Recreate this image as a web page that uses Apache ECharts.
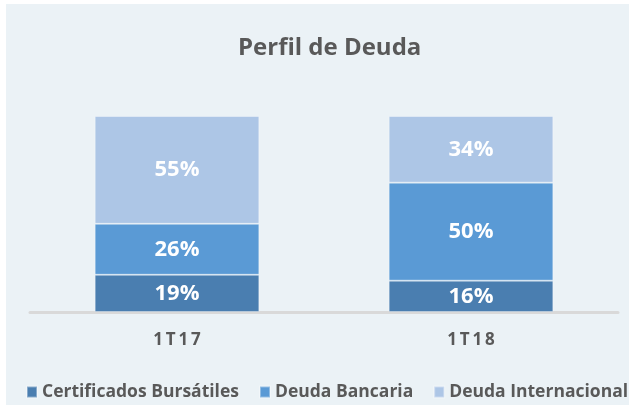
<!DOCTYPE html>
<html>
<head>
<meta charset="utf-8">
<script src="https://cdn.jsdelivr.net/npm/echarts@6/dist/echarts.min.js"></script>
<style>
  html, body { margin: 0; padding: 0; background: #ffffff; }
  #chart { position: absolute; left: 6px; top: 4px; width: 623px; height: 401px; background: #ebf2f6; }
</style>
</head>
<body>
<div id="chart"></div>
<script>
const categories = ["1T17", "1T18"];
const certificados = [19, 16];
const bancaria = [26, 50];
const internacional = [55, 34];

const chart = echarts.init(document.getElementById("chart"));

const labelStyle = {
  show: true,
  position: "inside",
  color: "#ffffff",
  fontFamily: "Open Sans",
  fontWeight: "bold",
  fontSize: 22,
  formatter: (p) => p.value + "%",
};

const makeSeries = (name, data, color) => ({
  name,
  type: "bar",
  stack: "total",
  barWidth: "56%",
  data,
  itemStyle: { color, borderColor: "rgba(255,255,255,0.35)", borderWidth: 1 },
  label: labelStyle,
});

chart.setOption({
  animation: false,
  title: {
    text: "Perfil de Deuda",
    left: 227,
    top: 27,
    textStyle: { fontFamily: "Open Sans", fontWeight: "bold", fontSize: 24, color: "#595959" },
  },
  grid: { left: 24, right: 11, top: 112, height: 196 },
  xAxis: {
    type: "category",
    data: categories,
    axisLine: { lineStyle: { color: "#d9d9d9", width: 3 } },
    axisTick: { show: false },
    axisLabel: {
      margin: 20,
      fontFamily: "Open Sans",
      fontWeight: "bold",
      fontSize: 17,
      color: "#595959",
      formatter: (v) => v.split("").join("\u2009"),
    },
  },
  yAxis: { type: "value", min: 0, max: 100, show: false },
  legend: {
    top: 379,
    left: 20,
    width: 603,
    padding: 0,
    itemWidth: 10,
    itemHeight: 11,
    itemGap: 20,
    icon: "rect",
    textStyle: { fontFamily: "Open Sans", fontWeight: "bold", fontSize: 17.5, color: "#595959" },
  },
  series: [
    makeSeries("Certificados Bursátiles", certificados, "#4a7eb0"),
    makeSeries("Deuda Bancaria", bancaria, "#5a9ad5"),
    makeSeries("Deuda Internacional", internacional, "#adc6e6"),
  ],
});
</script>
</body>
</html>
